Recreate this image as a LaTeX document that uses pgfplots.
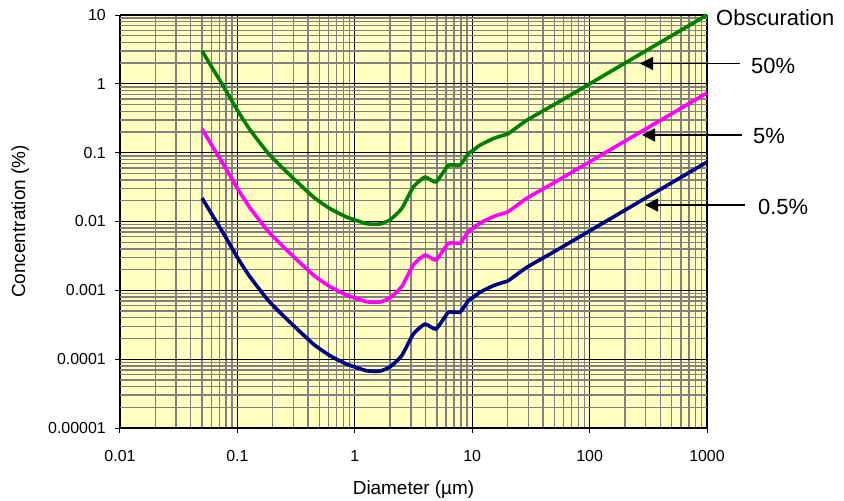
\documentclass[border=0pt]{standalone}
\usepackage{fontspec}
\setmainfont{Liberation Sans}
\usepackage{pgfplots}
\usepackage{pgfplotstable}
\pgfplotsset{compat=1.18}
\usetikzlibrary{arrows.meta}

\definecolor{plotbg}{RGB}{255,255,192}
\definecolor{obsfifty}{RGB}{0,128,0}
\definecolor{obsfive}{RGB}{255,0,255}
\definecolor{obshalf}{RGB}{0,0,128}
\definecolor{gridgray}{RGB}{128,128,128}

% obscuration 50%
\pgfplotstableread{
d c
0.05 3.0
0.0624 1.6
0.0758 0.93
0.102 0.39
0.128 0.215
0.183 0.098
0.263 0.0524
0.444 0.0227
0.615 0.0154
0.853 0.0116
1.26 0.0093
1.64 0.0092
2.0 0.0106
2.51 0.0154
3.15 0.0317
3.96 0.0443
4.92 0.0375
6.27 0.0655
7.87 0.066
9.27 0.097
10.2 0.108
11.6 0.128
15.1 0.16
18.4 0.179
20.3 0.189
29.1 0.295
50 0.5
100 1.0
200 2.0
500 5.0
1000 10
}\tabfifty

% obscuration 5%
\pgfplotstableread{
d c
0.05 0.2206
0.0624 0.1176
0.0758 0.06838
0.102 0.02868
0.128 0.01581
0.183 0.007206
0.263 0.003853
0.444 0.001669
0.615 0.001132
0.853 0.000853
1.26 0.000684
1.64 0.000676
2.0 0.000779
2.51 0.001132
3.15 0.002331
3.96 0.003257
4.92 0.002757
6.27 0.004816
7.87 0.004853
9.27 0.007132
10.2 0.007941
11.6 0.009412
15.1 0.01176
18.4 0.01316
20.3 0.0139
29.1 0.02169
50 0.03676
100 0.07353
200 0.1471
500 0.3676
1000 0.7353
}\tabfive

% obscuration 0.5%
\pgfplotstableread{
d c
0.05 0.0219
0.0624 0.01168
0.0758 0.006788
0.102 0.002847
0.128 0.001569
0.183 0.0007153
0.263 0.0003825
0.444 0.0001657
0.615 0.0001124
0.853 0.0000847
1.26 0.0000679
1.64 0.0000672
2.0 0.0000774
2.51 0.0001124
3.15 0.0002314
3.96 0.0003234
4.92 0.0002737
6.27 0.0004781
7.87 0.0004818
9.27 0.000708
10.2 0.000788
11.6 0.000934
15.1 0.001168
18.4 0.001307
20.3 0.00138
29.1 0.002153
50 0.00365
100 0.0073
200 0.0146
500 0.0365
1000 0.073
}\tabhalf

\begin{document}
\begin{tikzpicture}
\path[use as bounding box] (0,0) rectangle (844bp,501bp);
\begin{loglogaxis}[
  at={(120bp,73bp)}, anchor=south west,
  scale only axis, width=587bp, height=413bp,
  xmin=0.01, xmax=1000, ymin=0.00001, ymax=10,
  axis background/.style={fill=plotbg},
  axis line style={black, line width=1bp},
  xtick={0.01,0.1,1,10,100,1000},
  xticklabels={0.01,0.1,1,10,100,1000},
  ytick={0.00001,0.0001,0.001,0.01,0.1,1,10},
  yticklabels={0.00001,0.0001,0.001,0.01,0.1,1,10},
  minor xtick={0.02,0.03,0.04,0.05,0.06,0.07,0.08,0.09,
    0.2,0.3,0.4,0.5,0.6,0.7,0.8,0.9,2,3,4,5,6,7,8,9,
    20,30,40,50,60,70,80,90,200,300,400,500,600,700,800,900},
  minor ytick={0.00002,0.00003,0.00004,0.00005,0.00006,0.00007,0.00008,0.00009,
    0.0002,0.0003,0.0004,0.0005,0.0006,0.0007,0.0008,0.0009,
    0.002,0.003,0.004,0.005,0.006,0.007,0.008,0.009,
    0.02,0.03,0.04,0.05,0.06,0.07,0.08,0.09,
    0.2,0.3,0.4,0.5,0.6,0.7,0.8,0.9,2,3,4,5,6,7,8,9},
  xtick pos=lower, ytick pos=left,
  tick align=outside,
  major tick length=5bp, minor tick length=0pt,
  every tick/.style={black, line width=1bp},
  xmajorgrids, ymajorgrids, xminorgrids, yminorgrids,
  major grid style={black, line width=1.1bp},
  minor grid style={gridgray, line width=1.4bp},
  tick label style={font=\fontsize{16}{18}\selectfont},
  xticklabel style={anchor=center, yshift=-23bp},
  yticklabel style={anchor=east, inner sep=0pt, xshift=-9bp},
  xlabel={Diameter (µm)},
  ylabel={Concentration (\%)},
  label style={font=\fontsize{19}{22}\selectfont},
  xlabel style={at={(axis description cs:0.5,-0.150)}, anchor=center},
  ylabel style={at={(axis description cs:-0.170,0.5)}, anchor=center},
  clip=false,
]
\addplot[obsfifty, line width=3.6bp, line join=round, smooth, tension=0.3] table[x=d, y=c] {\tabfifty};
\addplot[obsfive, line width=3.6bp, line join=round, smooth, tension=0.3] table[x=d, y=c] {\tabfive};
\addplot[obshalf, line width=3.6bp, line join=round, smooth, tension=0.3] table[x=d, y=c] {\tabhalf};
\end{loglogaxis}
\begin{scope}[font=\fontsize{22}{26}\selectfont]
\node[anchor=west, inner sep=0pt] at (716bp,483bp) {Obscuration};
\node[anchor=west, inner sep=0pt] at (751bp,435bp) {50\%};
\node[anchor=west, inner sep=0pt] at (753bp,365bp) {5\%};
\node[anchor=west, inner sep=0pt] at (758bp,294bp) {0.5\%};
\draw[line width=1.3bp, -{Triangle[length=13bp, width=13bp]}] (740bp,437.5bp) -- (640bp,437.5bp);
\draw[line width=1.3bp, -{Triangle[length=13bp, width=13bp]}] (742bp,366bp) -- (642bp,366bp);
\draw[line width=1.3bp, -{Triangle[length=13bp, width=13bp]}] (745bp,296bp) -- (645bp,296bp);
\end{scope}
\end{tikzpicture}
\end{document}
